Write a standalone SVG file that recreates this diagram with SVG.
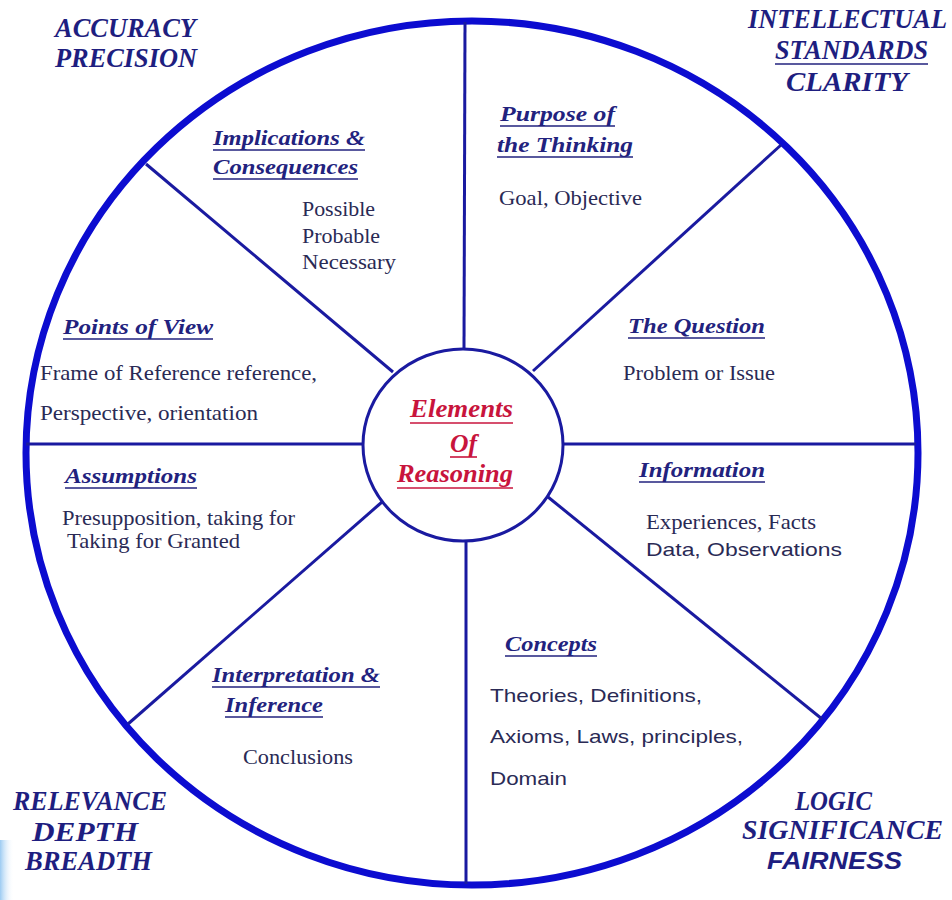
<svg xmlns="http://www.w3.org/2000/svg" width="952" height="900" viewBox="0 0 952 900">
<defs>
<linearGradient id="strip" x1="0" y1="0" x2="1" y2="0">
<stop offset="0" stop-color="#9ccbf2"/>
<stop offset="1" stop-color="#ffffff" stop-opacity="0"/>
</linearGradient>
<style>
.outer{fill:none;stroke:#0c0cd0;stroke-width:7}
.inner{fill:#fff;stroke:#1a1aa0;stroke-width:3}
.spoke{stroke:#1a1aa0;stroke-width:3;fill:none}
.corner{font-family:"Liberation Serif",serif;font-weight:bold;font-style:italic;font-size:27px;fill:#1e1e80}
.cornersans{font-family:"Liberation Sans",sans-serif;font-weight:bold;font-style:italic;font-size:23px;fill:#1e1e80}
.head{font-family:"Liberation Serif",serif;font-weight:bold;font-style:italic;font-size:22px;fill:#22227e}
.body{font-family:"Liberation Serif",serif;font-size:21px;fill:#2a2a55}
.bodysans{font-family:"Liberation Sans",sans-serif;font-size:19px;fill:#2a2a55}
.ul{stroke:#22227e;stroke-width:1.6}
.title{font-family:"Liberation Serif",serif;font-weight:bold;font-style:italic;font-size:26px;fill:#c8143c}
.tul{stroke:#c8143c;stroke-width:1.6}
</style>
</defs>
<rect x="0" y="0" width="952" height="900" fill="#ffffff"/>
<rect x="0" y="840" width="14" height="60" fill="url(#strip)"/>

<g id="wheel">
<ellipse class="outer" cx="472" cy="453" rx="446" ry="432"/>
</g>

<g id="connectors">
<line class="spoke" x1="465" y1="22" x2="464" y2="349"/>
<line class="spoke" x1="466" y1="541" x2="466" y2="884"/>
<line class="spoke" x1="26" y1="444" x2="363" y2="444"/>
<line class="spoke" x1="563" y1="444" x2="916" y2="444"/>
<line class="spoke" x1="146" y1="164" x2="393" y2="372"/>
<line class="spoke" x1="781" y1="145" x2="533" y2="371"/>
<line class="spoke" x1="128" y1="724" x2="382" y2="502"/>
<line class="spoke" x1="822" y1="719" x2="548" y2="497"/>
</g>

<g id="center">
<ellipse class="inner" cx="463" cy="445" rx="100" ry="96"/>
<text class="title" x="410" y="417" textLength="103" lengthAdjust="spacingAndGlyphs">Elements</text>
<line class="tul" x1="410" y1="423" x2="513" y2="423"/>
<text class="title" x="450" y="452" textLength="27" lengthAdjust="spacingAndGlyphs">Of</text>
<line class="tul" x1="450" y1="457" x2="477" y2="457"/>
<text class="title" x="397" y="482" textLength="116" lengthAdjust="spacingAndGlyphs">Reasoning</text>
<line class="tul" x1="397" y1="488" x2="513" y2="488"/>
</g>

<g id="purpose">
<text class="head" x="500" y="121" textLength="115" lengthAdjust="spacingAndGlyphs">Purpose of</text>
<line class="ul" x1="500" y1="126" x2="615" y2="126"/>
<text class="head" x="497" y="152" textLength="136" lengthAdjust="spacingAndGlyphs">the Thinking</text>
<line class="ul" x1="497" y1="157" x2="633" y2="157"/>
<text class="body" x="499" y="205" textLength="143" lengthAdjust="spacingAndGlyphs">Goal, Objective</text>
</g>

<g id="question">
<text class="head" x="628" y="333" textLength="137" lengthAdjust="spacingAndGlyphs">The Question</text>
<line class="ul" x1="628" y1="338" x2="765" y2="338"/>
<text class="body" x="623" y="380" textLength="152" lengthAdjust="spacingAndGlyphs">Problem or Issue</text>
</g>

<g id="information">
<text class="head" x="639" y="477" textLength="126" lengthAdjust="spacingAndGlyphs">Information</text>
<line class="ul" x1="639" y1="482" x2="765" y2="482"/>
<text class="body" x="646" y="529" textLength="170" lengthAdjust="spacingAndGlyphs">Experiences, Facts</text>
<text class="bodysans" x="646" y="556" textLength="196" lengthAdjust="spacingAndGlyphs">Data, Observations</text>
</g>

<g id="concepts">
<text class="head" x="505" y="651" textLength="92" lengthAdjust="spacingAndGlyphs">Concepts</text>
<line class="ul" x1="505" y1="656" x2="597" y2="656"/>
<text class="bodysans" x="490" y="702" textLength="212" lengthAdjust="spacingAndGlyphs">Theories, Definitions,</text>
<text class="bodysans" x="490" y="743" textLength="253" lengthAdjust="spacingAndGlyphs">Axioms, Laws, principles,</text>
<text class="bodysans" x="490" y="785" textLength="77" lengthAdjust="spacingAndGlyphs">Domain</text>
</g>

<g id="interpretation">
<text class="head" x="212" y="682" textLength="168" lengthAdjust="spacingAndGlyphs">Interpretation &amp;</text>
<line class="ul" x1="212" y1="687" x2="380" y2="687"/>
<text class="head" x="225" y="712" textLength="98" lengthAdjust="spacingAndGlyphs">Inference</text>
<line class="ul" x1="225" y1="717" x2="323" y2="717"/>
<text class="body" x="243" y="764" textLength="110" lengthAdjust="spacingAndGlyphs">Conclusions</text>
</g>

<g id="assumptions">
<text class="head" x="65" y="483" textLength="132" lengthAdjust="spacingAndGlyphs">Assumptions</text>
<line class="ul" x1="65" y1="488" x2="197" y2="488"/>
<text class="body" x="62" y="525" textLength="233" lengthAdjust="spacingAndGlyphs">Presupposition, taking for</text>
<text class="body" x="67" y="548" textLength="173" lengthAdjust="spacingAndGlyphs">Taking for Granted</text>
</g>

<g id="points-of-view">
<text class="head" x="63" y="334" textLength="150" lengthAdjust="spacingAndGlyphs">Points of View</text>
<line class="ul" x1="63" y1="339" x2="213" y2="339"/>
<text class="body" x="40" y="380" textLength="277" lengthAdjust="spacingAndGlyphs">Frame of Reference reference,</text>
<text class="body" x="40" y="420" textLength="218" lengthAdjust="spacingAndGlyphs">Perspective, orientation</text>
</g>

<g id="implications">
<text class="head" x="213" y="145" textLength="152" lengthAdjust="spacingAndGlyphs">Implications &amp;</text>
<line class="ul" x1="213" y1="150" x2="365" y2="150"/>
<text class="head" x="213" y="174" textLength="145" lengthAdjust="spacingAndGlyphs">Consequences</text>
<line class="ul" x1="213" y1="179" x2="358" y2="179"/>
<text class="body" x="302" y="216" textLength="73" lengthAdjust="spacingAndGlyphs">Possible</text>
<text class="body" x="302" y="243" textLength="78" lengthAdjust="spacingAndGlyphs">Probable</text>
<text class="body" x="302" y="269" textLength="94" lengthAdjust="spacingAndGlyphs">Necessary</text>
</g>

<g id="standards-top-left">
<text class="corner" x="55" y="37" textLength="141" lengthAdjust="spacingAndGlyphs">ACCURACY</text>
<text class="corner" x="55" y="67" textLength="142" lengthAdjust="spacingAndGlyphs">PRECISION</text>
</g>

<g id="standards-top-right">
<text class="corner" x="748" y="28" textLength="199" lengthAdjust="spacingAndGlyphs">INTELLECTUAL</text>
<text class="corner" x="775" y="59" textLength="153" lengthAdjust="spacingAndGlyphs">STANDARDS</text>
<line class="ul" x1="775" y1="64" x2="928" y2="64"/>
<text class="corner" x="786" y="91" textLength="122" lengthAdjust="spacingAndGlyphs">CLARITY</text>
</g>

<g id="standards-bottom-left">
<text class="corner" x="13" y="810" textLength="154" lengthAdjust="spacingAndGlyphs">RELEVANCE</text>
<text class="corner" x="32" y="841" textLength="106" lengthAdjust="spacingAndGlyphs">DEPTH</text>
<text class="corner" x="25" y="870" textLength="127" lengthAdjust="spacingAndGlyphs">BREADTH</text>
</g>

<g id="standards-bottom-right">
<text class="corner" x="795" y="810" textLength="77" lengthAdjust="spacingAndGlyphs">LOGIC</text>
<text class="corner" x="742" y="839" textLength="201" lengthAdjust="spacingAndGlyphs">SIGNIFICANCE</text>
<text class="cornersans" x="767" y="869" textLength="135" lengthAdjust="spacingAndGlyphs">FAIRNESS</text>
</g>
</svg>
